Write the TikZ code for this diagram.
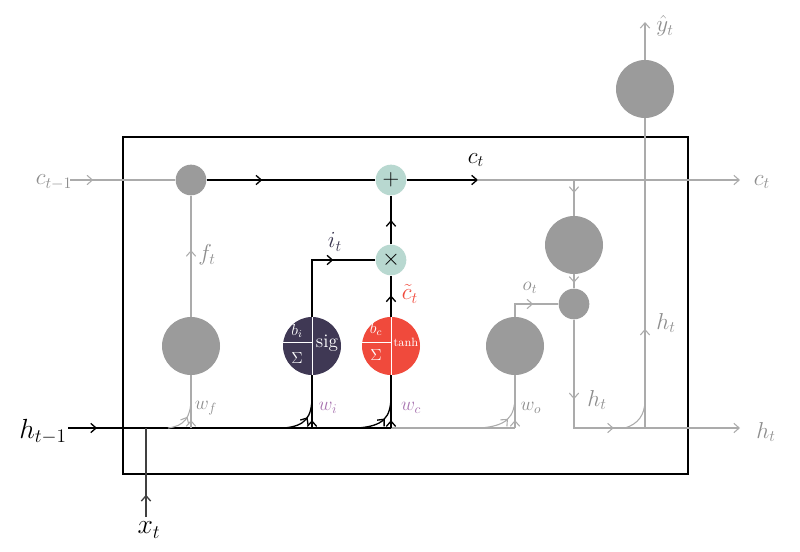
\documentclass[tikz,border=0pt]{standalone}
\usetikzlibrary{decorations.markings,arrows.meta}
\definecolor{gc}{HTML}{9B9B9B}
\definecolor{gl}{HTML}{ABABAB}
\definecolor{gt}{HTML}{8E8E8E}
\definecolor{tealc}{HTML}{B8D8D0}
\definecolor{sigc}{HTML}{3F3854}
\definecolor{tanhc}{HTML}{F04A3C}
\definecolor{wpur}{HTML}{A874B0}
\definecolor{itc}{HTML}{3A3650}
\tikzset{
  ma/.style={postaction={decorate,decoration={markings,mark=at position #1 with {\arrow{Straight Barb[length=4pt,width=7pt]}}}}},
  tip/.style={-{Straight Barb[length=4pt,width=7pt]}},
  gline/.style={draw=gl,line width=0.8pt},
  bline/.style={draw=black,line width=1pt},
  bigc/.style={circle,fill=gc,minimum size=43.5pt,inner sep=0pt},
  smallc/.style={circle,fill=gc,minimum size=23pt,inner sep=0pt},
  opc/.style={circle,fill=tealc,minimum size=23pt,inner sep=0pt,font=\LARGE},
  gatec/.style={circle,minimum size=43.5pt,inner sep=0pt},
  glab/.style={text=gt,font=\LARGE},
  blab/.style={text=black,font=\LARGE},
  wlab/.style={text=white,font=\large},
}
\begin{document}
\begin{tikzpicture}[x=0.75pt,y=-0.75pt]
\useasboundingbox (0,0) rectangle (800,552);
% frame
\draw[line width=1.5pt] (123,137) rectangle (688,474);

% nodes
\node[smallc] (fsm) at (191,180) {};
\node[opc] (plus) at (391,180) {$+$};
\node[opc] (mul) at (391,260) {$\times$};
\node[bigc] (fgate) at (191,346) {};
\node[gatec,fill=sigc] (sig) at (312,346) {};
\node[gatec,fill=tanhc] (tanh) at (391,346) {};
\node[bigc] (ogate) at (515,346) {};
\node[bigc] (tanhC) at (574,245) {};
\node[smallc] (omul) at (574,304) {};
\node[bigc] (yhat) at (645,89) {};

% coordinates
\coordinate (cin) at (70,180);
\coordinate (cmid) at (478,180);
\coordinate (cout) at (740,180);
\coordinate (cdown) at (574,180);
\coordinate (hin) at (68,428);
\coordinate (hsplit) at (391,428);
\coordinate (hend) at (515,428);
\coordinate (xin) at (146,517);
\coordinate (xj) at (146,428);
\coordinate (hout) at (740,428);
\coordinate (hcorner) at (574,428);
\coordinate (hv) at (645,428);
\coordinate (yout) at (645,22);

% gate internals
\foreach \g in {sig,tanh}{
  \draw[white,line width=0.7pt] (\g.north) -- (\g.south);
  \draw[white,line width=0.7pt] ([yshift=2.5pt]\g.west) -- ([yshift=2.5pt]\g.center);
}
\node[wlab] at (297,331) {$b_i$};
\node[wlab] at (297,358) {$\Sigma$};
\node[wlab,font=\Large] at (327,343) {sig};
\node[wlab] at (376,329) {$b_c$};
\node[wlab] at (376,355) {$\Sigma$};
\node[wlab,font=\small] at (406,342) {tanh};

% cell state line
\draw[gline,ma=0.22] (cin) -- (fsm);
\draw[bline,ma=0.33] (fsm) -- (plus);
\draw[bline,tip] (plus) -- (cmid);
\draw[gline,tip] (cmid) -- (cout);
\draw[gline,ma=0.36] (cdown) -- (tanhC);
\draw[gline,ma=0.6] (tanhC) -- (omul);
\draw[gline,ma=0.55] (ogate.north) |- (omul);
\draw[gline,ma=0.29,ma=0.54,tip] (omul) -- (hcorner) -- (hout);
\draw[gline,ma=0.32] (hv) -- (yhat);
\draw[gline] (625,428) .. controls (638,424) and (645,415) .. (645,400);
\draw[gline,tip] (yhat) -- (yout);

% gate paths
\draw[bline,ma=0.52] (tanh) -- (mul);
\draw[bline,ma=0.65] (sig.north) |- (mul);
\draw[bline,ma=0.5] (mul) -- (plus);
\draw[gline,ma=0.55] (fgate) -- (fsm);

% h / x input
\draw[bline,ma=0.09] (hin) -- (hsplit);
\draw[gline] (hsplit) -- (hend);
\draw[bline,draw=black!75,ma=0.25] (xin) -- (xj);

% weight curves
\draw[gline,ma=0.15] (191,428) -- (fgate);
\draw[gline,ma=0.55] (168,428) .. controls (184,426) and (191,418) .. (191,398);
\draw[bline,ma=0.15] (312,428) -- (sig);
\draw[bline,ma=0.55] (284,428) .. controls (305,426) and (312,418) .. (312,396);
\draw[bline,ma=0.15] (391,428) -- (tanh);
\draw[bline,ma=0.55] (358,428) .. controls (383,426) and (391,418) .. (391,396);
\draw[gline,ma=0.15] (515,428) -- (ogate);
\draw[gline,ma=0.55] (480,428) .. controls (506,426) and (515,418) .. (515,396);

% labels
\node[glab] at (54,182) {$c_{t-1}$};
\node[glab] at (762,182) {$c_t$};
\node[glab] at (766,432) {$h_t$};
\node[glab] at (666,323) {$h_t$};
\node[glab] at (597,400) {$h_t$};
\node[glab] at (665,26) {$\hat{y}_t$};
\node[glab,font=\Large] at (530,288) {$o_t$};
\node[glab] at (207,255) {$f_t$};
\node[glab,font=\Large] at (206,408) {$w_f$};
\node[text=wpur,font=\Large] at (328,408) {$w_i$};
\node[text=wpur,font=\Large] at (411,408) {$w_c$};
\node[glab,font=\Large] at (531,408) {$w_o$};
\node[text=itc,font=\LARGE] at (335,242) {$i_t$};
\node[text=tanhc,font=\LARGE] at (410,294) {$\tilde{c}_t$};
\node[blab] at (476,160) {$c_t$};
\node[blab,font=\huge] at (43,432) {$h_{t-1}$};
\node[blab,font=\huge] at (149,530) {$x_t$};
\end{tikzpicture}
\end{document}
